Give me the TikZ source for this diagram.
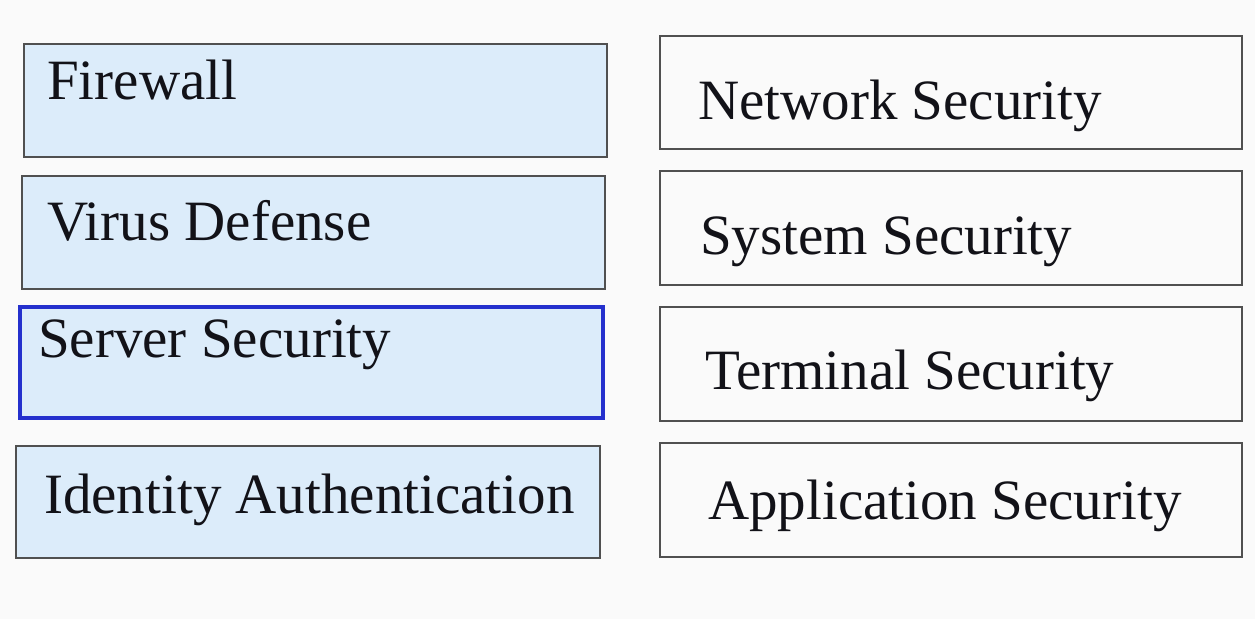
\documentclass[tikz,border=0pt]{standalone}
\usepackage{fontspec}
\setmainfont{Liberation Serif}
\definecolor{bgc}{RGB}{250,250,250}
\definecolor{boxfill}{RGB}{220,236,250}
\definecolor{boxline}{RGB}{80,80,80}
\definecolor{selline}{RGB}{36,48,205}
\definecolor{txt}{RGB}{18,18,24}
\tikzset{
  leftbox/.style={draw=boxline, fill=boxfill, line width=2.6pt, minimum width=583pt, minimum height=113pt, inner sep=0pt},
  rightbox/.style={draw=boxline, fill=bgc, line width=2.4pt, minimum width=582pt, minimum height=113pt, inner sep=0pt},
  selbox/.style={leftbox, draw=selline, line width=3.4pt},
  lbl/.style={anchor=base west, inner sep=0pt, text=txt, font=\fontsize{57}{60}\selectfont}
}
\begin{document}
\begin{tikzpicture}[x=1pt,y=-1pt]
\fill[bgc] (0,0) rectangle (1255,619);
\useasboundingbox (0,0) rectangle (1255,619);
% left column
\node[leftbox] (fw) at (315.5,100.5) {};
\node[leftbox] (vd) at (313.5,232.5) {};
\node[selbox, minimum height=111pt] (ss) at (311.5,362.5) {};
\node[leftbox, minimum width=584pt, minimum height=112pt] (ia) at (308,502) {};
% right column
\node[rightbox] (ns) at (951,92.5) {};
\node[rightbox, minimum height=114pt] (sy) at (951,228) {};
\node[rightbox, minimum height=114pt] (ts) at (951,364) {};
\node[rightbox, minimum height=114pt] (as) at (951,500) {};
% labels
\node[lbl] (fwt) at (47,99) {Firewall};
\node[lbl] (vdt) at (47,240) {Virus Defense};
\node[lbl] (sst) at (38,357) {Server Security};
\node[lbl] (iat) at (44,513) {Identity Authentication};
\node[lbl] (nst) at (698,119) {Network Security};
\node[lbl] (syt) at (700,254) {System Security};
\node[lbl] (tst) at (705,389) {Terminal Security};
\node[lbl] (ast) at (708,519) {Application Security};
\end{tikzpicture}
\end{document}
